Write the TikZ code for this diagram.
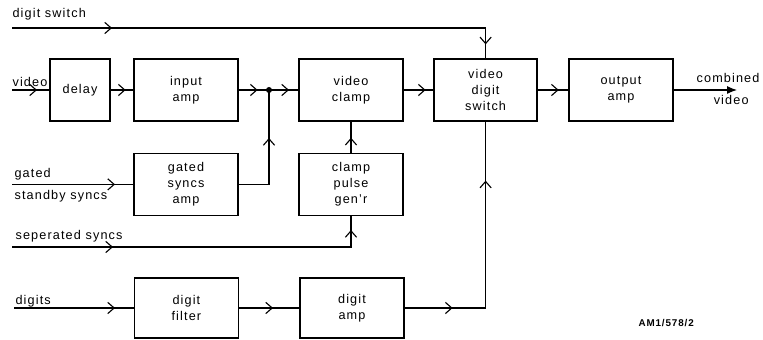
\documentclass[tikz,border=0pt]{standalone}
\usepackage{fontspec}
\setmainfont{Liberation Sans}[LetterSpace=9]
\usetikzlibrary{arrows.meta,decorations.markings}
\tikzset{
  blk/.style={draw, line width=0.9pt, minimum width=2.6cm, minimum height=1.55cm,
    align=center, font=\fontsize{9}{11.5}\selectfont},
  lbl/.style={font=\fontsize{9}{11.5}\selectfont, inner sep=0pt},
  arrat/.style={postaction={decorate, decoration={markings,
    mark=at position #1 with {\arrow{Straight Barb[length=1.6mm, width=2.8mm]}}}}},
}
\begin{document}
\begin{tikzpicture}[line width=0.8pt]
\useasboundingbox (0,0) rectangle (19.075,8.5);
% Top row
\node[blk, minimum width=1.5cm] (delay) at (2.0,6.25) {delay};
\node[blk] (inamp) at (4.65,6.25) {input\\amp};
\node[blk] (clamp) at (8.775,6.25) {video\\clamp};
\node[blk, minimum width=2.575cm] (switch) at (12.14,6.25) {video\\digit\\switch};
\node[blk] (outamp) at (15.525,6.25) {output\\amp};
% Middle row
\node[blk] (gsamp) at (4.65,3.89) {gated\\syncs\\amp};
\node[blk] (pulse) at (8.775,3.89) {clamp\\pulse\\gen'r};
% Bottom row
\node[blk, minimum height=1.5cm] (filter) at (4.66,0.8) {digit\\filter};
\node[blk, minimum height=1.5cm] (digamp) at (8.8,0.8) {digit\\amp};
% Free ends
\coordinate (dswin) at (0.3,7.8);
\coordinate (vidin) at (0.3,6.25);
\coordinate (gatin) at (0.3,3.89);
\coordinate (sepin) at (0.3,2.325);
\coordinate (digin) at (0.35,0.8);
\coordinate (junc) at (6.725,6.25);
\coordinate (vidout) at (18.425,6.25);
% Inputs
\draw[arrat=2.5cm, arrat=-0.35cm] (dswin) -| (switch.north);
\node[lbl, anchor=base west] (dswlbl) at (0.3,8.05) {digit switch};
\draw[arrat=0.625cm] (vidin) -- (delay);
\node[lbl, anchor=base west] (vidlbl) at (0.3,6.33) {video};
\draw[arrat=2.575cm] (gatin) -- (gsamp);
\node[lbl, anchor=base west] (gatlbl) at (0.35,4.05) {gated};
\node[lbl, anchor=base west] (stblbl) at (0.35,3.5) {standby syncs};
\draw[arrat=2.525cm, arrat=-0.35cm] (sepin) -| (pulse.south);
\node[lbl, anchor=base west] (seplbl) at (0.375,2.5) {seperated syncs};
\draw[arrat=2.525cm] (digin) -- (filter);
\node[lbl, anchor=base west] (diglbl) at (0.375,0.875) {digits};
% Signal path
\draw[arrat=0.375cm] (delay) -- (inamp);
\draw[arrat=0.475cm] (inamp) -- (junc);
\draw[arrat=0.5cm] (junc) -- (clamp);
\fill (junc) circle (0.075);
\draw[arrat=-1.2cm] (gsamp.east) -| (junc);
\draw[arrat=0.375cm] (pulse) -- (clamp);
\draw[arrat=0.55cm] (clamp) -- (switch);
\draw[arrat=0.525cm] (switch) -- (outamp);
\draw[arrat=0.85cm] (filter) -- (digamp);
\draw[arrat=1.2cm, arrat=-1.475cm] (digamp.east) -| (switch.south);
% Output
\draw[-{Latex[length=2.5mm, width=2mm]}] (outamp) -- (vidout);
\node[lbl, anchor=base east] (comblbl) at (19.0,6.425) {combined};
\node[lbl, anchor=base west] (voutlbl) at (17.83,5.875) {video};
\node[lbl, anchor=base west, font=\bfseries\fontsize{7}{8}\selectfont] (reflbl) at (15.95,0.325) {AM1/578/2};
\end{tikzpicture}
\end{document}
